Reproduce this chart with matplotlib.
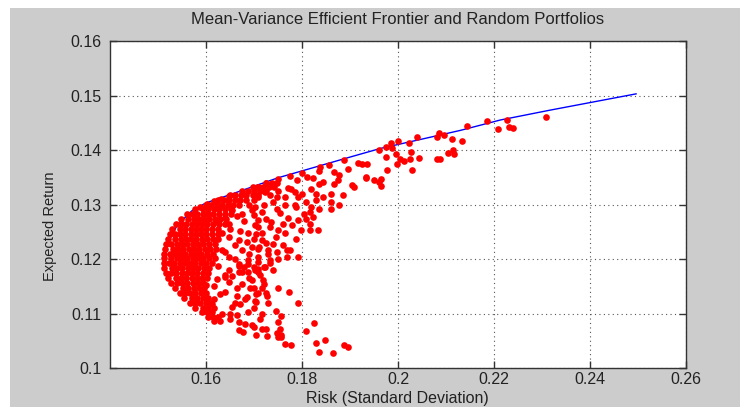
import matplotlib
matplotlib.use("Agg")
import matplotlib.pyplot as plt
from matplotlib.patches import Rectangle

plt.rcParams['font.family'] = ['Liberation Sans', 'DejaVu Sans']

# ---------------- data ----------------
# efficient frontier (risk, return)
frontier_risk = [0.1512, 0.1520, 0.1540, 0.1570, 0.1600, 0.1650, 0.1695, 0.1750,
                 0.1833, 0.1900, 0.1964, 0.2050, 0.2130, 0.2213, 0.2316, 0.2400, 0.2496]
frontier_return = [0.1195, 0.1228, 0.1262, 0.1288, 0.1303, 0.1318, 0.1332, 0.1349,
                   0.1370, 0.1387, 0.1403, 0.1420, 0.1436, 0.1455, 0.1473, 0.1487, 0.1503]

# dense band of random portfolios just inside the frontier (one row per return level)
dense_return = [0.1340, 0.1333, 0.1325, 0.1317, 0.1309, 0.1300, 0.1291, 0.1282, 0.1273,
                0.1264, 0.1255, 0.1246, 0.1237, 0.1228, 0.1219, 0.1210, 0.1201, 0.1192,
                0.1183, 0.1174, 0.1165, 0.1156, 0.1147, 0.1138, 0.1129, 0.1120, 0.1111,
                0.1102, 0.1094]
dense_risk_rows = [
    [0.1725, 0.1737, 0.1748],
    [0.1697, 0.1708, 0.1719, 0.1731, 0.1742],
    [0.1676, 0.1687, 0.1699, 0.1712, 0.1724],
    [0.1650, 0.1661, 0.1672, 0.1684, 0.1697, 0.1708],
    [0.1626, 0.1637, 0.1648, 0.1660, 0.1671, 0.1683],
    [0.1600, 0.1611, 0.1622, 0.1633, 0.1645, 0.1657, 0.1668],
    [0.1578, 0.1594, 0.1605, 0.1616, 0.1627, 0.1639, 0.1652],
    [0.1560, 0.1571, 0.1582, 0.1593, 0.1604, 0.1615, 0.1627, 0.1640, 0.1652],
    [0.1547, 0.1563, 0.1574, 0.1585, 0.1596, 0.1607, 0.1618, 0.1630, 0.1642],
    [0.1537, 0.1548, 0.1559, 0.1570, 0.1581, 0.1592, 0.1603, 0.1614, 0.1628, 0.1640],
    [0.1530, 0.1546, 0.1557, 0.1568, 0.1579, 0.1590, 0.1601, 0.1612, 0.1624],
    [0.1524, 0.1535, 0.1546, 0.1557, 0.1568, 0.1579, 0.1590, 0.1601, 0.1613, 0.1626],
    [0.1520, 0.1536, 0.1547, 0.1558, 0.1569, 0.1580, 0.1591, 0.1602, 0.1614, 0.1626],
    [0.1517, 0.1528, 0.1539, 0.1550, 0.1561, 0.1572, 0.1583, 0.1594, 0.1606, 0.1618],
    [0.1515, 0.1531, 0.1542, 0.1553, 0.1564, 0.1575, 0.1586, 0.1597, 0.1609, 0.1621],
    [0.1513, 0.1524, 0.1535, 0.1546, 0.1557, 0.1568, 0.1579, 0.1590, 0.1602, 0.1615],
    [0.1512, 0.1528, 0.1539, 0.1550, 0.1561, 0.1572, 0.1583, 0.1594, 0.1606, 0.1618],
    [0.1512, 0.1523, 0.1534, 0.1545, 0.1556, 0.1567, 0.1578, 0.1589, 0.1600, 0.1612],
    [0.1513, 0.1529, 0.1540, 0.1551, 0.1562, 0.1573, 0.1584, 0.1595, 0.1607],
    [0.1516, 0.1527, 0.1538, 0.1549, 0.1560, 0.1571, 0.1582, 0.1593, 0.1605],
    [0.1521, 0.1537, 0.1548, 0.1559, 0.1570, 0.1581, 0.1592, 0.1603],
    [0.1528, 0.1539, 0.1550, 0.1561, 0.1572, 0.1583, 0.1594],
    [0.1536, 0.1552, 0.1563, 0.1574, 0.1585, 0.1596],
    [0.1545, 0.1556, 0.1567, 0.1578, 0.1589, 0.1600],
    [0.1555, 0.1571, 0.1582, 0.1593, 0.1604],
    [0.1566, 0.1577, 0.1588, 0.1599, 0.1610],
    [0.1578, 0.1594, 0.1605, 0.1616],
    [0.1591, 0.1602, 0.1613],
    [0.1604, 0.1615, 0.1626],
]

# scattered random portfolios (risk, return)
scatter_risk = [
    # lower tail
    0.1747, 0.1768, 0.1768, 0.1709, 0.1733, 0.1733, 0.1699, 0.1709, 0.1721, 0.1712,
    0.1719, 0.1699, 0.1716, 0.1708, 0.1724, 0.1728, 0.1750, 0.1772, 0.1703, 0.1792,
    0.1716, 0.1756, 0.1712, 0.1750, 0.1824, 0.1699, 0.1716, 0.1726, 0.1754, 0.1809,
    0.1705, 0.1728, 0.1747, 0.1756, 0.1757, 0.1750, 0.1847, 0.1764, 0.1778, 0.1830,
    0.1888, 0.1896, 0.1836, 0.1865,
    # lower-middle
    0.1668, 0.1688, 0.1668, 0.1688, 0.1709, 0.1640, 0.1623, 0.1647, 0.1674, 0.1695,
    0.1599, 0.1616, 0.1664, 0.1692, 0.1630, 0.1664, 0.1705, 0.1681, 0.1705, 0.1616,
    0.1612, 0.1671, 0.1654, 0.1688, 0.1633, 0.1650, 0.1664, 0.1616, 0.1630, 0.1650,
    0.1668, 0.1681, 0.1695, 0.1668, 0.1678,
    # middle
    0.1626, 0.1647, 0.1674, 0.1695, 0.1709, 0.1688, 0.1668, 0.1647, 0.1633, 0.1674,
    0.1695, 0.1716, 0.1730, 0.1709, 0.1688, 0.1668, 0.1647, 0.1633, 0.1647, 0.1674,
    0.1702, 0.1723, 0.1626, 0.1640,
    0.1655, 0.1665, 0.1680, 0.1690, 0.1700, 0.1720, 0.1740, 0.1755, 0.1770, 0.1780,
    0.1760, 0.1745, 0.1725, 0.1705, 0.1685, 0.1660, 0.1650, 0.1670, 0.1690, 0.1710,
    0.1750, 0.1740, 0.1690, 0.1660, 0.1680, 0.1655, 0.1640, 0.1685, 0.1700, 0.1660,
    0.1730, 0.1745, 0.1640, 0.1640, 0.1720, 0.1785, 0.1800, 0.1770, 0.1750, 0.1735,
    # along the frontier near the nose
    0.1588, 0.1603, 0.1617, 0.1632, 0.1647,
    # upper-middle
    0.1838, 0.1857, 0.1888, 0.1917, 0.1933, 0.1709, 0.1726, 0.1750, 0.1775, 0.1800,
    0.1790, 0.1810, 0.1836, 0.1867, 0.1878, 0.1895, 0.1836, 0.1843, 0.1867, 0.1874,
    0.1823, 0.1819, 0.1861, 0.1843, 0.1885, 0.1905, 0.1909, 0.1830, 0.1830, 0.1809,
    0.1792, 0.1778, 0.1785, 0.1764, 0.1747, 0.1733, 0.1723, 0.1709, 0.1699, 0.1702,
    0.1716, 0.1747, 0.1764, 0.1788, 0.1819, 0.1836, 0.1861, 0.1878, 0.1816, 0.1805,
    0.1792, 0.1809, 0.1823, 0.1816, 0.1798, 0.1816, 0.1833, 0.1788, 0.1764, 0.1750,
    0.1733, 0.1736, 0.1726, 0.1709, 0.1702, 0.1716, 0.1761, 0.1774, 0.1740, 0.1699,
    0.1709, 0.1730, 0.1792, 0.1861,
    # upper right
    0.2085, 0.2096, 0.2081, 0.2112, 0.2133, 0.2143, 0.2186, 0.2209, 0.2227, 0.2231,
    0.2240, 0.2309, 0.2040, 0.2022, 0.1999, 0.1986, 0.1988, 0.1974, 0.1960, 0.1974,
    0.1995, 0.2004, 0.2012, 0.1997, 0.2026, 0.2043, 0.2028, 0.1978, 0.2030, 0.2081,
    0.2087, 0.2105, 0.2114, 0.2116, 0.1949, 0.1960, 0.1965, 0.1965, 0.1935, 0.1924,
    0.1933,
]
scatter_return = [
    # lower tail
    0.1213, 0.1216, 0.1204, 0.1195, 0.1199, 0.1192, 0.1185, 0.1181, 0.1185, 0.1170,
    0.1161, 0.1146, 0.1146, 0.1137, 0.1137, 0.1133, 0.1146, 0.1139, 0.1123, 0.1120,
    0.1100, 0.1095, 0.1089, 0.1084, 0.1083, 0.1076, 0.1072, 0.1072, 0.1072, 0.1068,
    0.1060, 0.1058, 0.1064, 0.1060, 0.1056, 0.1056, 0.1052, 0.1044, 0.1043, 0.1046,
    0.1043, 0.1038, 0.1030, 0.1027,
    # lower-middle
    0.1188, 0.1191, 0.1176, 0.1176, 0.1176, 0.1170, 0.1164, 0.1158, 0.1155, 0.1161,
    0.1152, 0.1150, 0.1146, 0.1146, 0.1136, 0.1133, 0.1136, 0.1127, 0.1121, 0.1127,
    0.1118, 0.1118, 0.1112, 0.1103, 0.1100, 0.1100, 0.1097, 0.1087, 0.1087, 0.1090,
    0.1084, 0.1081, 0.1078, 0.1069, 0.1066,
    # middle
    0.1268, 0.1265, 0.1283, 0.1289, 0.1259, 0.1247, 0.1234, 0.1240, 0.1247, 0.1216,
    0.1222, 0.1234, 0.1216, 0.1204, 0.1198, 0.1191, 0.1204, 0.1216, 0.1179, 0.1176,
    0.1179, 0.1185, 0.1188, 0.1167,
    0.1290, 0.1278, 0.1270, 0.1300, 0.1280, 0.1300, 0.1305, 0.1285, 0.1275, 0.1262,
    0.1265, 0.1240, 0.1230, 0.1245, 0.1232, 0.1225, 0.1255, 0.1252, 0.1210, 0.1222,
    0.1200, 0.1180, 0.1165, 0.1200, 0.1185, 0.1168, 0.1140, 0.1130, 0.1110, 0.1120,
    0.1120, 0.1105, 0.1212, 0.1275, 0.1155, 0.1300, 0.1320, 0.1330, 0.1325, 0.1335,
    # along the frontier near the nose
    0.1296, 0.1301, 0.1306, 0.1311, 0.1315,
    # upper-middle
    0.1368, 0.1372, 0.1382, 0.1376, 0.1350, 0.1333, 0.1339, 0.1346, 0.1352, 0.1357,
    0.1345, 0.1350, 0.1362, 0.1360, 0.1354, 0.1366, 0.1338, 0.1341, 0.1338, 0.1345,
    0.1348, 0.1329, 0.1320, 0.1314, 0.1317, 0.1335, 0.1332, 0.1320, 0.1308, 0.1305,
    0.1314, 0.1329, 0.1323, 0.1314, 0.1314, 0.1317, 0.1323, 0.1314, 0.1308, 0.1295,
    0.1286, 0.1292, 0.1299, 0.1295, 0.1295, 0.1292, 0.1292, 0.1299, 0.1286, 0.1283,
    0.1271, 0.1274, 0.1277, 0.1265, 0.1253, 0.1253, 0.1253, 0.1237, 0.1247, 0.1253,
    0.1259, 0.1268, 0.1274, 0.1271, 0.1262, 0.1247, 0.1225, 0.1216, 0.1228, 0.1237,
    0.1219, 0.1210, 0.1204, 0.1305,
    # upper right
    0.1431, 0.1427, 0.1423, 0.1421, 0.1417, 0.1444, 0.1453, 0.1439, 0.1455, 0.1442,
    0.1440, 0.1460, 0.1423, 0.1412, 0.1417, 0.1412, 0.1403, 0.1406, 0.1400, 0.1387,
    0.1392, 0.1384, 0.1379, 0.1374, 0.1384, 0.1386, 0.1397, 0.1363, 0.1363, 0.1383,
    0.1384, 0.1394, 0.1400, 0.1392, 0.1345, 0.1341, 0.1346, 0.1334, 0.1375, 0.1375,
    0.1349,
]

x_ticks = [0.16, 0.18, 0.20, 0.22, 0.24, 0.26]
x_tick_labels = ['0.16', '0.18', '0.2', '0.22', '0.24', '0.26']
y_ticks = [0.10, 0.11, 0.12, 0.13, 0.14, 0.15, 0.16]
y_tick_labels = ['0.1', '0.11', '0.12', '0.13', '0.14', '0.15', '0.16']

# ---------------- figure ----------------
W, H = 740, 407
fig = plt.figure(figsize=(W / 100, H / 100), dpi=100)
fig.patch.set_facecolor('white')
fig.add_artist(Rectangle((10 / W, 0), 1 - 10 / W, 1 - 8 / H, transform=fig.transFigure,
                         facecolor='#cccccc', edgecolor='none', zorder=-10))

ax = fig.add_axes([110 / W, 1 - 368 / H, 576 / W, 327 / H])
ax.set_facecolor('white')

ax.plot(frontier_risk, frontier_return, color='#0000ff', linewidth=1.0, zorder=2)

mcolor = '#ff0000'
mstyle = dict(linestyle='none', marker='o', markersize=4.8,
              markerfacecolor=mcolor, markeredgewidth=0, zorder=3)
for r, row in zip(dense_return, dense_risk_rows):
    ax.plot(row, [r] * len(row), **mstyle)
ax.plot(scatter_risk, scatter_return, **mstyle)

ax.set_xlim(0.14, 0.26)
ax.set_ylim(0.10, 0.16)
ax.set_xticks(x_ticks)
ax.set_xticklabels(x_tick_labels)
ax.set_yticks(y_ticks)
ax.set_yticklabels(y_tick_labels)

ax.grid(True, linestyle=(0, (1, 3)), color='#555555', linewidth=0.8)
ax.set_axisbelow(True)
ax.tick_params(direction='in', length=5, width=1, color='#333333', labelsize=11.5,
               top=True, right=True, labelcolor='#222222')
ax.tick_params(axis='x', pad=3)
ax.tick_params(axis='y', pad=6)
for s in ax.spines.values():
    s.set_color('#333333')
    s.set_linewidth(1.0)

fig.text(398 / W, 1 - 20 / H, 'Mean-Variance Efficient Frontier and Random Portfolios',
         fontsize=12, color='#222222', ha='center', va='center')
fig.text(397 / W, 1 - 398 / H, 'Risk (Standard Deviation)',
         fontsize=11.5, color='#222222', ha='center', va='center')
fig.text(50 / W, 1 - 226 / H, 'Expected Return', rotation=90,
         fontsize=10.5, color='#222222', ha='center', va='center')

fig.savefig('out.png', dpi=100, facecolor=fig.get_facecolor())
